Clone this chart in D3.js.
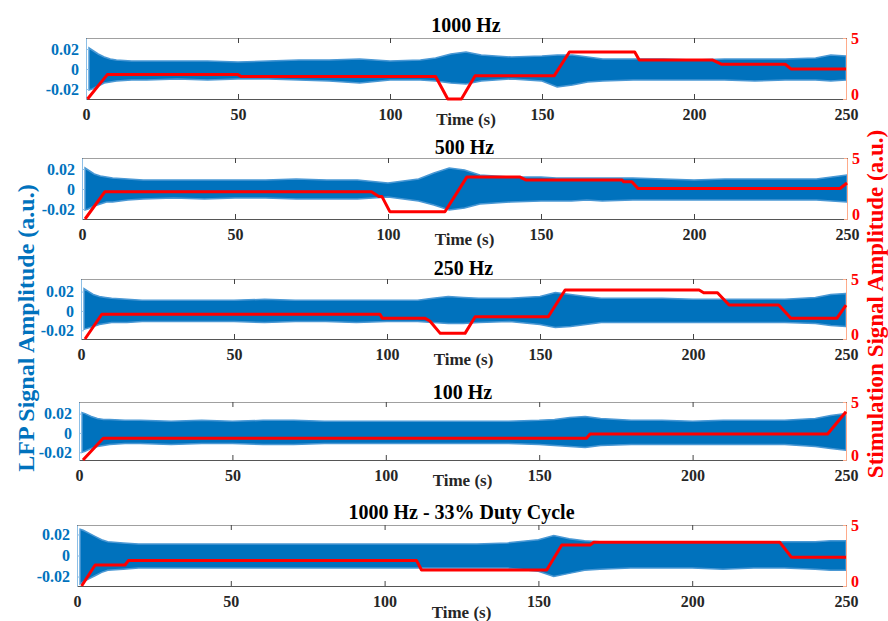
<head>
    <script src="https://d3js.org/d3.v7.min.js"></script>
    <style>
        body { margin: 0; background: #fff; }
        text { font-family: "Liberation Serif", "Times New Roman", serif; font-weight: bold; }
    </style>
</head>

<body>
    <div id="app"></div>
</body>

<script>
    // titles and ticks
    const titles = ["1000 Hz", "500 Hz", "250 Hz", "100 Hz", "1000 Hz - 33% Duty Cycle"];
    const timeTicks = [0, 50, 100, 150, 200, 250];
    const lfpTicks = [-0.02, 0, 0.02];
    const stimTicks = [0, 5];

    // LFP envelope (upper / lower edge of the blue band)
    const envT = [1, 2, 4, 6, 8, 10, 15, 20, 30, 40, 50, 60, 70, 80, 90, 100, 110, 115, 120, 125,
                  130, 140, 150, 155, 160, 165, 170, 180, 190, 200, 210, 220, 230, 240, 245, 250];

    const lfpUpper1 = [0.021, 0.019, 0.015, 0.012, 0.010, 0.009, 0.008, 0.008, 0.008, 0.008, 0.007, 0.008, 0.009, 0.009, 0.010, 0.008, 0.009, 0.011, 0.015, 0.017,
                       0.014, 0.012, 0.013, 0.014, 0.014, 0.012, 0.010, 0.010, 0.010, 0.009, 0.010, 0.010, 0.010, 0.011, 0.014, 0.013];
    const lfpLower1 = [-0.021, -0.020, -0.017, -0.014, -0.013, -0.012, -0.011, -0.011, -0.010, -0.011, -0.010, -0.010, -0.011, -0.012, -0.014, -0.011, -0.011, -0.012, -0.014, -0.015,
                       -0.012, -0.010, -0.012, -0.018, -0.016, -0.013, -0.012, -0.011, -0.011, -0.011, -0.011, -0.012, -0.011, -0.011, -0.012, -0.011];

    const lfpUpper2 = [0.021, 0.019, 0.015, 0.013, 0.012, 0.011, 0.010, 0.009, 0.009, 0.009, 0.009, 0.009, 0.010, 0.009, 0.009, 0.006, 0.010, 0.016, 0.021, 0.019,
                       0.014, 0.012, 0.012, 0.011, 0.011, 0.011, 0.011, 0.011, 0.010, 0.009, 0.010, 0.010, 0.010, 0.010, 0.012, 0.014];
    const lfpLower2 = [-0.021, -0.020, -0.017, -0.015, -0.013, -0.013, -0.011, -0.010, -0.009, -0.010, -0.009, -0.009, -0.010, -0.010, -0.010, -0.008, -0.012, -0.016, -0.021, -0.019,
                       -0.015, -0.013, -0.012, -0.012, -0.012, -0.011, -0.012, -0.011, -0.011, -0.011, -0.011, -0.011, -0.011, -0.011, -0.012, -0.013];

    const lfpUpper3 = [0.023, 0.021, 0.017, 0.015, 0.014, 0.013, 0.012, 0.011, 0.011, 0.011, 0.011, 0.012, 0.011, 0.011, 0.011, 0.011, 0.011, 0.013, 0.015, 0.014,
                       0.013, 0.013, 0.015, 0.019, 0.017, 0.015, 0.013, 0.013, 0.013, 0.012, 0.012, 0.012, 0.012, 0.014, 0.017, 0.018];
    const lfpLower3 = [-0.019, -0.018, -0.016, -0.014, -0.013, -0.012, -0.012, -0.011, -0.011, -0.011, -0.011, -0.012, -0.011, -0.011, -0.012, -0.011, -0.011, -0.012, -0.013, -0.013,
                       -0.012, -0.011, -0.014, -0.017, -0.016, -0.014, -0.012, -0.012, -0.012, -0.012, -0.012, -0.012, -0.012, -0.013, -0.015, -0.016];

    const lfpUpper4 = [0.021, 0.020, 0.017, 0.015, 0.014, 0.014, 0.013, 0.013, 0.012, 0.013, 0.012, 0.013, 0.013, 0.012, 0.012, 0.012, 0.012, 0.012, 0.012, 0.012,
                       0.012, 0.012, 0.013, 0.014, 0.016, 0.017, 0.015, 0.013, 0.013, 0.012, 0.013, 0.013, 0.013, 0.015, 0.018, 0.020];
    const lfpLower4 = [-0.020, -0.019, -0.016, -0.014, -0.013, -0.012, -0.011, -0.011, -0.012, -0.011, -0.011, -0.012, -0.012, -0.011, -0.011, -0.011, -0.011, -0.011, -0.011, -0.011,
                       -0.011, -0.011, -0.012, -0.013, -0.014, -0.015, -0.013, -0.012, -0.012, -0.012, -0.012, -0.012, -0.012, -0.014, -0.016, -0.018];

    const lfpUpper5 = [0.025, 0.024, 0.021, 0.018, 0.015, 0.013, 0.012, 0.011, 0.011, 0.011, 0.011, 0.011, 0.011, 0.011, 0.011, 0.011, 0.011, 0.011, 0.011, 0.011,
                       0.011, 0.012, 0.015, 0.019, 0.016, 0.014, 0.013, 0.013, 0.013, 0.013, 0.013, 0.013, 0.013, 0.013, 0.014, 0.014];
    const lfpLower5 = [-0.027, -0.025, -0.022, -0.019, -0.016, -0.014, -0.013, -0.012, -0.012, -0.012, -0.012, -0.012, -0.012, -0.012, -0.012, -0.012, -0.012, -0.012, -0.012, -0.012,
                       -0.012, -0.012, -0.015, -0.020, -0.017, -0.014, -0.013, -0.012, -0.012, -0.012, -0.013, -0.012, -0.012, -0.013, -0.014, -0.014];

    // stimulation amplitude (red line), breakpoints in time / value
    const stim1T = [0.5, 7, 50, 51, 115, 119, 123.5, 128, 154, 159, 180.5, 182, 206, 209, 230, 232, 250];
    const stim1V = [0, 2.0, 2.0, 1.85, 1.85, 0, 0, 1.9, 1.9, 3.85, 3.85, 3.2, 3.2, 2.85, 2.85, 2.45, 2.45];

    const stim2T = [1, 7.5, 94.6, 97, 98, 100.6, 118.6, 125.8, 143, 145, 176.5, 177, 179.7, 181.7, 247.7, 250];
    const stim2V = [0, 2.24, 2.24, 1.85, 1.85, 0.6, 0.6, 3.45, 3.45, 3.2, 3.2, 3.06, 3.06, 2.5, 2.5, 2.95];

    const stim3T = [1.3, 6.8, 97.7, 98.5, 112.5, 114, 117.4, 125.5, 128.8, 152.7, 158.2, 202, 203.5, 208, 211.8, 228, 232, 247, 250];
    const stim3V = [0, 2.06, 2.06, 1.72, 1.72, 1.5, 0.47, 0.47, 1.86, 1.86, 4.08, 4.08, 3.86, 3.86, 2.83, 2.83, 1.72, 1.72, 2.83];

    const stim4T = [1.3, 7.9, 165.4, 166.6, 244, 250];
    const stim4V = [0, 1.87, 1.87, 2.24, 2.24, 4.16];

    const stim5T = [1.5, 5.9, 15.6, 16.7, 110.4, 112, 152.7, 157.6, 166.8, 168, 228.5, 232.3, 250];
    const stim5V = [0, 1.72, 1.72, 2.08, 2.08, 1.31, 1.31, 3.36, 3.36, 3.58, 3.58, 2.35, 2.35];

    const panels = [
        { upper: lfpUpper1, lower: lfpLower1, stimT: stim1T, stimV: stim1V },
        { upper: lfpUpper2, lower: lfpLower2, stimT: stim2T, stimV: stim2V },
        { upper: lfpUpper3, lower: lfpLower3, stimT: stim3T, stimV: stim3V },
        { upper: lfpUpper4, lower: lfpLower4, stimT: stim4T, stimV: stim4V },
        { upper: lfpUpper5, lower: lfpLower5, stimT: stim5T, stimV: stim5V }
    ];

    // pixel boxes of each panel (left, right, top, bottom) and left axis range
    const layout = [
        { l: 86, r: 846, t: 38, b: 99, dom: [-0.03, 0.031], titleY: 32, xlab: 20 },
        { l: 82, r: 847, t: 158, b: 219, dom: [-0.03, 0.031], titleY: 154, xlab: 20 },
        { l: 81, r: 846, t: 279, b: 339, dom: [-0.029, 0.033], titleY: 275, xlab: 20 },
        { l: 79, r: 846, t: 402, b: 460, dom: [-0.028, 0.032], titleY: 399, xlab: 20 },
        { l: 77, r: 846, t: 525, b: 586, dom: [-0.029, 0.029], titleY: 519, xlab: 26 }
    ];

    const blue = "#0072BD", red = "#FF0000";

    const svg = d3.select("#app").append("svg")
        .attr("width", 888)
        .attr("height", 621);

    panels.forEach((p, i) => {
        const L = layout[i];
        const x = d3.scaleLinear().domain([0, 250]).range([L.l, L.r]);
        const yL = d3.scaleLinear().domain(L.dom).range([L.b, L.t]);
        const yR = d3.scaleLinear().domain([0, 5]).range([L.b, L.t]);
        const g = svg.append("g");

        g.append("clipPath").attr("id", "clip" + i)
            .append("rect")
            .attr("x", L.l).attr("y", L.t)
            .attr("width", L.r - L.l).attr("height", L.b - L.t);

        // LFP band
        const env = envT.map((t, k) => ({ t: t, hi: p.upper[k], lo: p.lower[k] }));
        g.append("path").datum(env)
            .attr("clip-path", `url(#clip${i})`)
            .attr("fill", blue)
            .attr("stroke", "#4a98d4")
            .attr("stroke-width", 1.5)
            .attr("d", d3.area().x(d => x(d.t)).y0(d => yL(d.lo)).y1(d => yL(d.hi)));

        // top border with inward ticks
        const top = g.append("g").attr("transform", `translate(0,${L.t})`)
            .call(d3.axisTop(x).tickValues(timeTicks).tickSizeInner(-5).tickSizeOuter(0).tickFormat(""));
        top.select(".domain").attr("stroke", "#a0a0a0");
        top.selectAll(".tick line").attr("stroke", "#444");

        // bottom axis
        const bot = g.append("g").attr("transform", `translate(0,${L.b})`)
            .call(d3.axisBottom(x).tickValues(timeTicks).tickSizeInner(-5).tickSizeOuter(0).tickPadding(10));
        bot.select(".domain").attr("stroke", "#555");
        bot.selectAll(".tick line").attr("stroke", "#444");
        bot.selectAll("text").attr("fill", "#262626").style("font-size", "16px");

        // left axis (LFP)
        const left = g.append("g").attr("transform", `translate(${L.l},0)`)
            .call(d3.axisLeft(yL).tickValues(lfpTicks).tickSizeInner(-3).tickSizeOuter(0).tickPadding(7)
                .tickFormat(d => d === 0 ? "0" : d3.format(".2f")(d).replace("−", "-")));
        left.select(".domain").attr("stroke", "#8dbfe6");
        left.selectAll(".tick line").attr("stroke", "#8dbfe6");
        left.selectAll("text").attr("fill", blue).style("font-size", "16px");

        // right axis (stimulation)
        const right = g.append("g").attr("transform", `translate(${L.r},0)`)
            .call(d3.axisRight(yR).tickValues(stimTicks).tickSizeInner(-3).tickSizeOuter(0).tickPadding(5)
                .tickFormat(d3.format("d")));
        right.select(".domain").attr("stroke", "#ffab8a");
        right.selectAll(".tick line").attr("stroke", "#ffab8a");
        right.selectAll("text")
            .attr("fill", red)
            .style("font-size", "16px")
            .attr("dy", d => d === 0 ? "0.05em" : "0.32em");

        // stimulation line
        const stim = p.stimT.map((t, k) => ({ t: t, v: p.stimV[k] }));
        g.append("path").datum(stim)
            .attr("fill", "none")
            .attr("stroke", red)
            .attr("stroke-width", 3)
            .attr("stroke-linejoin", "round")
            .attr("d", d3.line().x(d => x(d.t)).y(d => yR(d.v)));

        // title and x label
        g.append("text")
            .attr("x", (L.l + L.r) / 2).attr("y", L.titleY)
            .attr("text-anchor", "middle")
            .style("font-size", "20px")
            .attr("fill", "#000")
            .text(titles[i]);

        g.append("text")
            .attr("x", (L.l + L.r) / 2).attr("y", L.b + L.xlab)
            .attr("dy", "0.33em")
            .attr("text-anchor", "middle")
            .style("font-size", "17px")
            .attr("fill", "#262626")
            .text("Time (s)");
    });

    // shared y labels
    svg.append("text")
        .attr("transform", "translate(26,328) rotate(-90)")
        .attr("text-anchor", "middle")
        .attr("dy", "0.33em")
        .style("font-size", "24px")
        .attr("fill", blue)
        .text("LFP Signal Amplitude (a.u.)");

    svg.append("text")
        .attr("transform", "translate(875,304) rotate(-90)")
        .attr("text-anchor", "middle")
        .attr("dy", "0.33em")
        .style("font-size", "23px")
        .attr("fill", red)
        .text("Stimulation Signal Amplitude (a.u.)");
</script>
